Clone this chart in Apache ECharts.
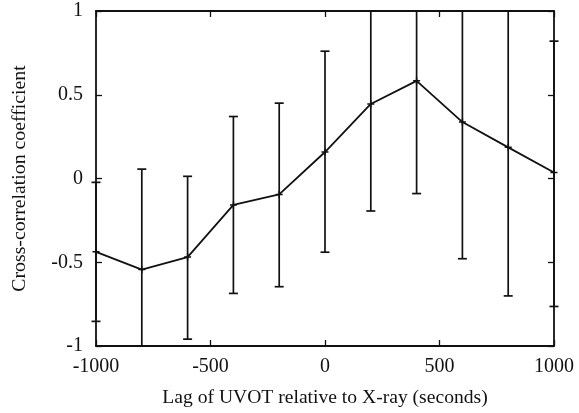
<!DOCTYPE html>
<html>
<head>
<meta charset="utf-8">
<script src="https://cdn.jsdelivr.net/npm/echarts@6/dist/echarts.min.js"></script>
<style>html,body{margin:0;padding:0;background:#fff}#c{width:579px;height:413px}</style>
</head>
<body>
<div id="c"></div>
<script>
const lags = [-1000, -800, -600, -400, -200, 0, 200, 400, 600, 800, 1000];
const coeff = [-0.438, -0.544, -0.469, -0.158, -0.095, 0.158, 0.445, 0.583, 0.337, 0.186, 0.036];
const errLow = [0.415, 0.60, 0.49, 0.528, 0.551, 0.598, 0.639, 0.673, 0.816, 0.887, 0.80];
const errHigh = [0.415, 0.60, 0.482, 0.528, 0.545, 0.602, 0.64, 0.673, 0.816, 0.887, 0.784];
const xTicks = [-1000, -500, 0, 500, 1000];
const yTicks = [-1, -0.5, 0, 0.5, 1];

const font = 'Liberation Serif';
const lineData = lags.map((x, i) => [x, coeff[i]]);
const errData = lags.map((x, i) => [x, coeff[i] - errLow[i], coeff[i] + errHigh[i]]);
const plusPath = 'path://M0,5L10,5M5,0L5,10';

const chart = echarts.init(document.getElementById('c'), null, {renderer: 'canvas'});
const axLine = {show: true, onZero: false, lineStyle: {color: '#111', width: 1.8}};
const tick = {show: true, inside: true, length: 6, lineStyle: {color: '#111', width: 1.3}};
const fmt = v => String(v);
chart.setOption({
  animation: false,
  grid: {left: 96, right: 25, top: 11, bottom: 63},
  xAxis: [{
    type: 'value', min: xTicks[0], max: xTicks[xTicks.length - 1], interval: 500,
    axisLine: axLine, axisTick: tick, splitLine: {show: false},
    axisLabel: {color: '#111', fontFamily: font, fontSize: 20, margin: 11, formatter: fmt},
    name: 'Lag of UVOT relative to X-ray (seconds)', nameLocation: 'middle', nameGap: 42,
    nameTextStyle: {color: '#111', fontFamily: font, fontSize: 19.6}
  }, {
    type: 'value', position: 'top', min: xTicks[0], max: xTicks[xTicks.length - 1], interval: 500,
    axisLine: axLine, axisTick: tick, axisLabel: {show: false}, splitLine: {show: false}
  }],
  yAxis: [{
    type: 'value', min: yTicks[0], max: yTicks[yTicks.length - 1], interval: 0.5,
    axisLine: axLine, axisTick: tick, splitLine: {show: false},
    axisLabel: {color: '#111', fontFamily: font, fontSize: 20, margin: 13, formatter: fmt},
    name: 'Cross-correlation coefficient', nameLocation: 'middle', nameGap: 66,
    nameTextStyle: {color: '#111', fontFamily: font, fontSize: 19.8}
  }, {
    type: 'value', position: 'right', min: yTicks[0], max: yTicks[yTicks.length - 1], interval: 0.5,
    axisLine: axLine, axisTick: tick, axisLabel: {show: false}, splitLine: {show: false}
  }],
  series: [{
    type: 'custom',
    data: errData,
    encode: {x: 0, y: [1, 2]},
    renderItem: function (params, api) {
      const x = api.value(0);
      const lo = Math.max(api.value(1), -1);
      const hi = Math.min(api.value(2), 1);
      const p1 = api.coord([x, lo]);
      const p2 = api.coord([x, hi]);
      const hw = 4.5;
      const st = {stroke: '#111', lineWidth: 1.7};
      return {
        type: 'group',
        children: [
          {type: 'line', shape: {x1: p1[0], y1: p1[1], x2: p2[0], y2: p2[1]}, style: st},
          {type: 'line', shape: {x1: p1[0] - hw, y1: p1[1], x2: p1[0] + hw, y2: p1[1]}, style: st},
          {type: 'line', shape: {x1: p2[0] - hw, y1: p2[1], x2: p2[0] + hw, y2: p2[1]}, style: st}
        ]
      };
    },
    z: 2
  }, {
    type: 'line',
    data: lineData,
    symbol: plusPath,
    symbolSize: 7,
    showSymbol: true,
    itemStyle: {color: 'transparent', borderColor: '#111', borderWidth: 1.5},
    lineStyle: {color: '#111', width: 1.8},
    z: 3
  }]
});
</script>
</body>
</html>
